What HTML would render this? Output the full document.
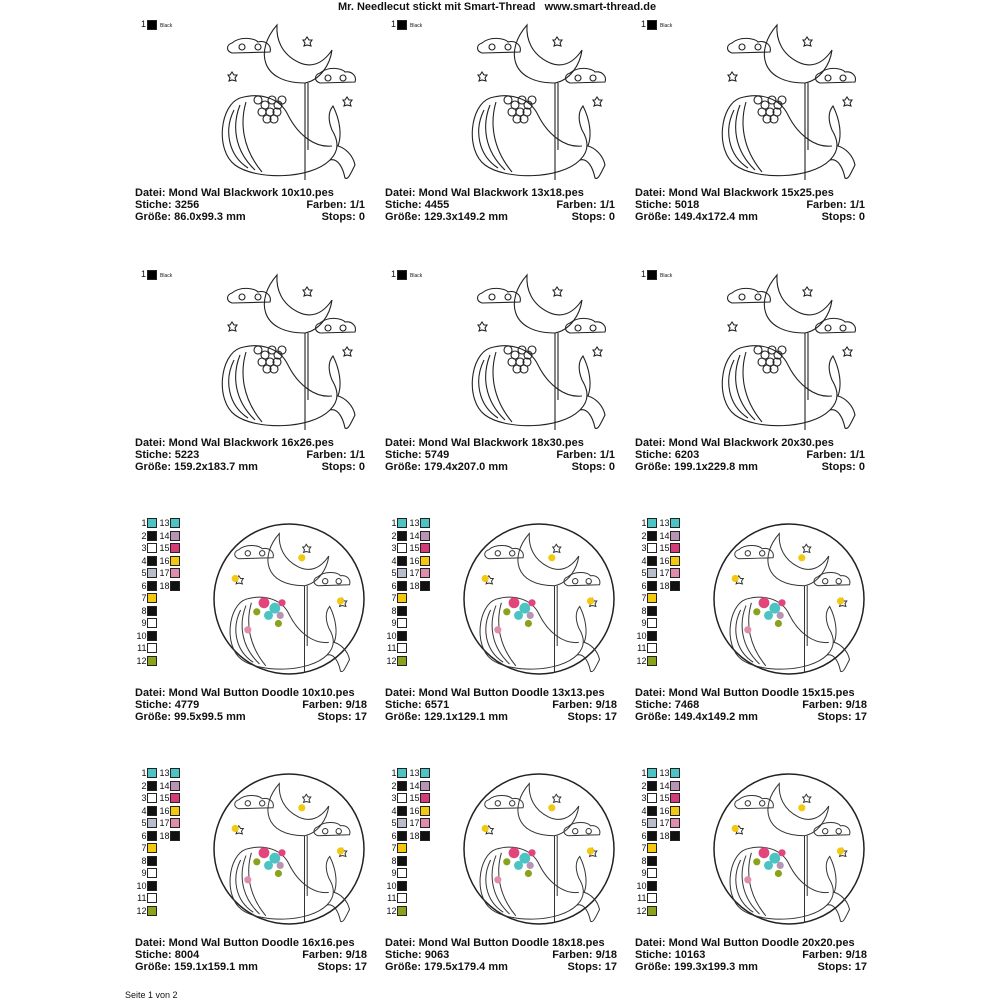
<!DOCTYPE html><html><head><style>
body{margin:0;width:1000px;height:1000px;background:#fff;position:relative;font-family:"Liberation Sans",sans-serif;overflow:hidden}
.t{position:absolute;font-size:11px;font-weight:bold;color:#111;white-space:nowrap;line-height:12px}
.n{position:absolute;font-size:9px;color:#111;line-height:10px}
.r{position:absolute;font-size:9px;color:#111;line-height:10px;width:14px;text-align:right}
.s{position:absolute;width:10px;height:10px;border:1px solid #222;box-sizing:border-box}
svg{position:absolute;left:0;top:0}
</style></head><body>
<div class="t" style="left:338px;top:1px">Mr. Needlecut stickt mit Smart-Thread &nbsp;&nbsp;www.smart-thread.de</div>
<div class="n" style="left:125px;top:990px;font-size:9px">Seite 1 von 2</div>
<div id="c"></div>
<svg id="g" width="1000" height="1000"></svg>
<script>
var names=["Mond Wal Blackwork 10x10.pes","Mond Wal Blackwork 13x18.pes","Mond Wal Blackwork 15x25.pes","Mond Wal Blackwork 16x26.pes","Mond Wal Blackwork 18x30.pes","Mond Wal Blackwork 20x30.pes","Mond Wal Button Doodle 10x10.pes","Mond Wal Button Doodle 13x13.pes","Mond Wal Button Doodle 15x15.pes","Mond Wal Button Doodle 16x16.pes","Mond Wal Button Doodle 18x18.pes","Mond Wal Button Doodle 20x20.pes"];
var st=[3256,4455,5018,5223,5749,6203,4779,6571,7468,8004,9063,10163];
var gr=["86.0x99.3","129.3x149.2","149.4x172.4","159.2x183.7","179.4x207.0","199.1x229.8","99.5x99.5","129.1x129.1","149.4x149.2","159.1x159.1","179.5x179.4","199.3x199.3"];
var cols=["#4cc4c4","#111","#fff","#111","#b8bccb","#111","#f2c811","#111","#fff","#111","#fff","#8aa31c","#4cc4c4","#b894b4","#d43c78","#f2c811","#e08cac","#111"];
var h="",s="";
var whale='<path d="M67,5 C45,30 50,63 95,63 C110,60 120,45 122,30 C112,45 100,48 88,42 C72,34 66,20 67,5Z"/>'+
'<path d="M22,23 C30,16 45,18 48,22 C55,20 62,25 60,32 L22,33 C16,31 16,25 22,23Z"/><circle cx="32" cy="27" r="3"/><circle cx="48" cy="27" r="3"/>'+
'<path d="M110,53 C118,46 132,48 135,52 C142,51 147,56 145,62 L110,63 C104,61 104,55 110,53Z"/><circle cx="118" cy="58" r="3"/><circle cx="133" cy="58" r="3"/>'+
'<path d="M30,78 C10,85 5,130 25,145 C45,160 100,160 120,140 C130,130 128,120 122,110 C118,100 118,92 123,86 C130,100 132,115 128,126 C135,128 143,135 145,145 C140,155 138,160 135,158 C133,148 128,138 120,140"/>'+
'<path d="M30,78 C50,72 70,78 78,95 C88,115 105,128 122,126"/><path d="M24,90 C14,110 18,135 38,148 M30,85 C22,105 24,130 45,150 M36,82 C30,102 32,128 52,152"/>'+
'<path d="M95,63 L95,160 M98,63 L98,130"/>'+
'<path d="M95,20 l2,-3 2,3 3,0 -2,3 1,3 -4,-1 -3,1 1,-3 -2,-3z M20,55 l2,-3 2,3 3,0 -2,3 1,3 -4,-1 -3,1 1,-3 -2,-3z M135,80 l2,-3 2,3 3,0 -2,3 1,3 -4,-1 -3,1 1,-3 -2,-3z"/>';
var flB='';
[[48,80],[55,85],[62,80],[68,85],[52,92],[60,92],[67,92],[57,99],[64,99],[72,80]].forEach(function(p){flB+='<circle cx="'+p[0]+'" cy="'+p[1]+'" r="4"/>'});
var flC='<circle cx="50" cy="82" r="6" fill="#e2447c"/><circle cx="62" cy="88" r="6" fill="#4cc4c4"/><circle cx="55" cy="96" r="5" fill="#4cc4c4"/><circle cx="70" cy="82" r="4" fill="#e2447c"/><circle cx="68" cy="96" r="4" fill="#b894b4"/><circle cx="42" cy="92" r="4" fill="#8aa31c"/><circle cx="66" cy="105" r="4" fill="#8aa31c"/><circle cx="32" cy="112" r="4" fill="#e08cac"/>'+
'<circle cx="92" cy="32" r="4" fill="#f2c811"/><circle cx="18" cy="55" r="4" fill="#f2c811"/><circle cx="135" cy="80" r="4" fill="#f2c811"/>';
for(var i=0;i<12;i++){
 var r=Math.floor(i/3),c=i%3,x=135+250*c,y=250*r;
 h+='<div class="t" style="left:'+x+'px;top:'+(187+y)+'px">Datei: '+names[i]+'</div>';
 h+='<div class="t" style="left:'+x+'px;top:'+(199+y)+'px">Stiche: '+st[i]+'</div>';
 h+='<div class="t" style="left:'+x+'px;top:'+(211+y)+'px">Größe: '+gr[i]+' mm</div>';
 var rt=(i<6?365:367)+250*c;
 h+='<div class="t" style="right:'+(1000-rt)+'px;top:'+(199+y)+'px">Farben: '+(i<6?'1/1':'9/18')+'</div>';
 h+='<div class="t" style="right:'+(1000-rt)+'px;top:'+(211+y)+'px">Stops: '+(i<6?'0':'17')+'</div>';
 if(i<6){
  h+='<div class="n" style="left:'+(141+250*c)+'px;top:'+(19+y)+'px">1</div><div class="s" style="left:'+(147+250*c)+'px;top:'+(20+y)+'px;background:#000"></div><div class="n" style="left:'+(160+250*c)+'px;top:'+(21+y)+'px;font-size:5px">Black</div>';
  s+='<g transform="translate('+(210+250*c)+','+(20+y)+')" fill="none" stroke="#222" stroke-width="1.1">'+whale+flB+'</g>';
 } else {
  for(var k=0;k<18;k++){var cc=k<12?0:1,rr=k<12?k:k-12,sx=(cc?170:147)+250*c,ly=518+250*(r-2)+rr*12.5;
   h+='<div class="r" style="left:'+(sx-14.5)+'px;top:'+ly+'px">'+(k+1)+'</div><div class="s" style="left:'+sx+'px;top:'+ly+'px;background:'+cols[k]+'"></div>';}
  var cx=289+250*c,cy=599+250*(r-2);
  s+='<circle cx="'+cx+'" cy="'+cy+'" r="75" fill="none" stroke="#222" stroke-width="1.5"/>';
  s+='<g transform="translate('+(cx-70)+','+(cy-70)+') scale(0.9)" fill="none" stroke="#333" stroke-width="1.1">'+whale+'</g>';
  s+='<g transform="translate('+(cx-70)+','+(cy-70)+') scale(0.9)" stroke="none">'+flC+'</g>';
 }
}
document.getElementById('c').innerHTML=h;document.getElementById('g').innerHTML=s;
</script></body></html>
